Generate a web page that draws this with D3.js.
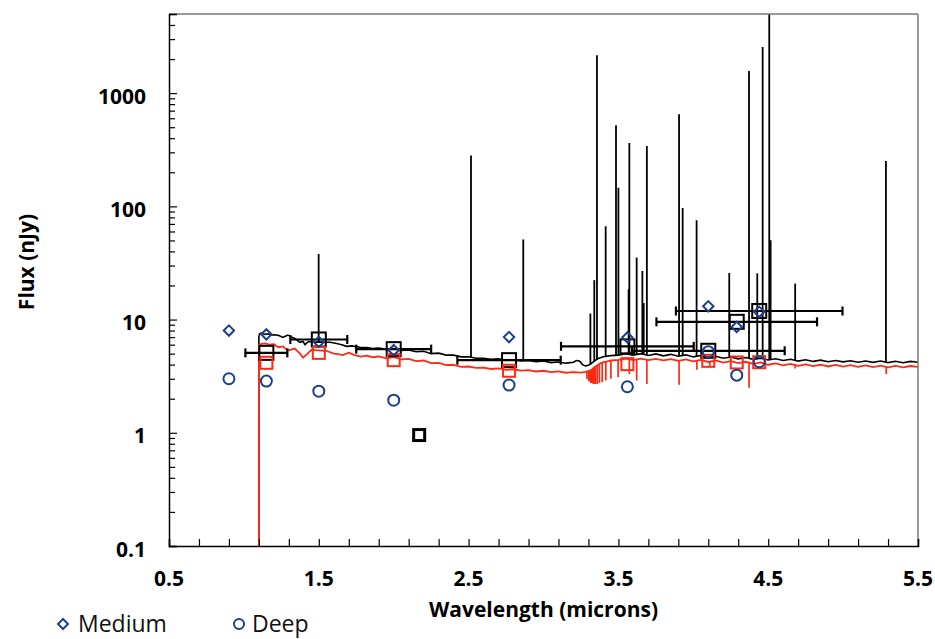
<!DOCTYPE html>
<html>
<head>
<meta charset="utf-8">
<script src="https://cdn.jsdelivr.net/npm/d3@7"></script>
<style>
  html, body { margin: 0; padding: 0; background: #fff; }
  svg { display: block; }
  .tick-label { font-family: "Open Sans", sans-serif; font-weight: 700; font-size: 21px; fill: #000; }
  .axis-title { font-family: "Open Sans", sans-serif; font-weight: 700; font-size: 21px; fill: #000; }
  .legend-text { font-family: "Open Sans", sans-serif; font-size: 23px; fill: #111; }
</style>
</head>
<body>
<svg id="chart" width="935" height="639"></svg>
<script>
// ---------------------------------------------------------------------------
// Data
// ---------------------------------------------------------------------------

// photometric points, Medium and Deep depths
const bandWl = [0.9, 1.15, 1.5, 2.0, 2.77, 3.56, 4.1, 4.29, 4.44];
const mediumFlux = [8.0, 7.4, 6.35, 5.37, 7.0, 6.95, 13.1, 8.6, 11.7];
const deepFlux = [3.0, 2.86, 2.33, 1.94, 2.64, 2.55, 5.2, 3.23, 4.24];

// model band fluxes (black: with lines, red: continuum only)
const squareWl = [1.15, 1.5, 2.0, 2.77, 3.56, 4.1, 4.29, 4.44];
const squareHalfWidth = [0.14, 0.19, 0.25, 0.345, 0.443, 0.51, 0.536, 0.556];
const blackSquareFlux = [5.08, 6.67, 5.48, 4.38, 5.8, 5.3, 9.55, 11.9];
const redSquareFlux = [4.15, 5.08, 4.38, 3.53, 4.04, 4.32, 4.18, 4.2];
const loneSquare = [[2.17, 0.955]];

// black model spectrum continuum [wavelength, flux]
const blackSpec = [
  [1.0999, 0.09], [1.1, 7.0], [1.105, 7.5], [1.118, 7.6], [1.14, 7.4], [1.16, 7.5], [1.18, 7.3],
  [1.2, 7.35], [1.23, 7.25], [1.26, 6.95], [1.28, 7.15], [1.294, 7.3], [1.32, 7.0], [1.34, 6.8],
  [1.374, 6.3], [1.395, 6.4], [1.408, 6.0], [1.425, 6.3], [1.441, 6.4], [1.47, 6.3], [1.5, 6.35],
  [1.54, 6.3], [1.575, 6.3], [1.62, 6.15], [1.653, 6.0], [1.686, 5.8], [1.72, 5.85], [1.775, 5.7],
  [1.82, 5.65], [1.86, 5.55], [1.9, 5.6], [1.95, 5.45], [2.0, 5.55], [2.05, 5.35], [2.1, 5.4],
  [2.15, 5.2], [2.2, 5.25], [2.25, 5.0], [2.3, 5.05], [2.35, 4.85], [2.4, 4.85], [2.45, 4.68],
  [2.5, 4.7], [2.55, 4.55], [2.6, 4.55], [2.65, 4.45], [2.7, 4.5], [2.75, 4.36], [2.8, 4.42],
  [2.85, 4.3], [2.9, 4.35], [2.95, 4.24], [3.0, 4.3], [3.05, 4.17], [3.1, 4.22], [3.15, 4.12],
  [3.2, 4.2], [3.22, 4.35], [3.24, 4.3], [3.26, 4.0], [3.28, 3.9], [3.3, 3.95], [3.32, 4.1],
  [3.34, 4.3], [3.36, 4.5], [3.4, 4.7], [3.45, 4.8], [3.5, 4.85], [3.55, 5.0], [3.6, 4.85],
  [3.65, 5.0], [3.7, 4.82], [3.75, 4.97], [3.8, 4.78], [3.85, 4.93], [3.9, 4.74], [3.95, 4.88],
  [4.0, 4.68], [4.05, 4.82], [4.1, 4.6], [4.15, 4.74], [4.2, 4.55], [4.25, 4.67], [4.3, 4.5],
  [4.35, 4.62], [4.4, 4.45], [4.45, 4.56], [4.5, 4.4], [4.55, 4.5], [4.6, 4.35], [4.65, 4.46],
  [4.7, 4.3], [4.75, 4.42], [4.8, 4.27], [4.85, 4.38], [4.9, 4.24], [4.95, 4.35], [5.0, 4.23],
  [5.05, 4.33], [5.1, 4.2], [5.15, 4.31], [5.2, 4.19], [5.25, 4.3], [5.3, 4.17], [5.35, 4.28],
  [5.4, 4.16], [5.45, 4.27], [5.5, 4.2]
];

// emission lines on the black spectrum [wavelength, base, peak]
const emissionLines = [
  [1.499, 6.3, 38], [2.516, 4.65, 282], [2.865, 4.3, 51], [3.313, 4.0, 11.3], [3.339, 4.3, 22.3],
  [3.357, 4.4, 2160], [3.415, 4.7, 66.7], [3.484, 4.8, 520], [3.5, 4.8, 146], [3.568, 4.9, 18.5],
  [3.573, 4.9, 363], [3.622, 4.9, 35.3], [3.66, 4.9, 26.9], [3.669, 4.9, 14], [3.69, 4.9, 341],
  [3.905, 4.8, 650], [3.929, 4.8, 96.8], [4.022, 4.75, 75.4], [4.24, 4.6, 25.8], [4.372, 4.5, 1567],
  [4.427, 4.5, 25.6], [4.463, 4.5, 2550], [4.507, 4.45, 9000], [4.516, 4.45, 50.2], [4.68, 4.4, 20.8],
  [5.286, 4.2, 251]
];

// red continuum spectrum [wavelength, flux]
const redSpec = [
  [1.0999, 0.09], [1.1, 6.0], [1.12, 6.1], [1.14, 6.15], [1.17, 6.0], [1.2, 6.05], [1.23, 5.7],
  [1.26, 5.8], [1.28, 5.5], [1.3, 5.35], [1.32, 5.45], [1.34, 5.55], [1.36, 5.2], [1.375, 5.0],
  [1.395, 4.6], [1.41, 4.8], [1.425, 5.0], [1.45, 5.4], [1.5, 5.35], [1.55, 5.3], [1.6, 5.0],
  [1.63, 4.95], [1.66, 4.85], [1.7, 5.1], [1.74, 4.85], [1.78, 4.7], [1.82, 4.8], [1.86, 4.65],
  [1.9, 4.72], [1.95, 4.55], [2.0, 4.65], [2.05, 4.45], [2.1, 4.5], [2.15, 4.3], [2.2, 4.35],
  [2.25, 4.12], [2.3, 4.15], [2.35, 3.97], [2.4, 3.98], [2.45, 3.82], [2.5, 3.85], [2.55, 3.74],
  [2.6, 3.76], [2.65, 3.66], [2.7, 3.7], [2.75, 3.6], [2.8, 3.64], [2.85, 3.54], [2.9, 3.58],
  [2.95, 3.48], [3.0, 3.53], [3.05, 3.44], [3.1, 3.48], [3.15, 3.39], [3.2, 3.43], [3.25, 3.4],
  [3.28, 3.45], [3.3, 3.5], [3.32, 3.6], [3.34, 3.8], [3.36, 3.95], [3.38, 4.1], [3.4, 4.2],
  [3.42, 4.25], [3.45, 4.35], [3.5, 4.4], [3.55, 4.52], [3.6, 4.38], [3.65, 4.52], [3.7, 4.38],
  [3.75, 4.5], [3.8, 4.36], [3.85, 4.48], [3.9, 4.32], [3.95, 4.44], [4.0, 4.27], [4.05, 4.4],
  [4.1, 4.22], [4.15, 4.35], [4.2, 4.17], [4.25, 4.3], [4.3, 4.12], [4.35, 4.24], [4.4, 4.07],
  [4.45, 4.18], [4.5, 3.99], [4.55, 4.1], [4.6, 3.94], [4.65, 4.06], [4.7, 3.9], [4.75, 4.02],
  [4.8, 3.88], [4.85, 3.99], [4.9, 3.85], [4.95, 3.97], [5.0, 3.84], [5.05, 3.95], [5.1, 3.82],
  [5.15, 3.93], [5.2, 3.81], [5.25, 3.92], [5.3, 3.79], [5.35, 3.9], [5.4, 3.78], [5.45, 3.89],
  [5.5, 3.82]
];

// absorption lines on the red spectrum [wavelength, base, bottom]
const absorptionLines = [
  [3.29, 3.45, 3.0], [3.3, 3.5, 2.9], [3.306, 3.52, 2.85], [3.313, 3.55, 2.8], [3.317, 3.58, 2.75],
  [3.321, 3.6, 2.75], [3.325, 3.65, 2.75], [3.332, 3.72, 2.7], [3.339, 3.8, 2.7], [3.348, 3.88, 2.7],
  [3.359, 3.95, 2.7], [3.373, 4.05, 2.75], [3.392, 4.15, 2.8], [3.416, 4.25, 2.9], [3.45, 4.35, 3.0],
  [3.498, 4.4, 3.1], [3.573, 4.45, 3.3], [3.622, 4.45, 2.9], [3.69, 4.45, 2.7], [3.905, 4.4, 2.65],
  [4.024, 4.35, 3.6], [4.11, 4.3, 3.9], [4.372, 4.17, 2.5], [4.68, 3.98, 3.7], [5.288, 3.85, 3.3]
];

const yMajorTicks = [0.1, 1, 10, 100, 1000];
const yTickLabels = ["0.1", "1", "10", "100", "1000"];
const xMajorTicks = [0.5, 1.5, 2.5, 3.5, 4.5, 5.5];
const xTickLabels = ["0.5", "1.5", "2.5", "3.5", "4.5", "5.5"];

// ---------------------------------------------------------------------------
// Layout
// ---------------------------------------------------------------------------

const LEFT = 169, RIGHT = 918, TOP = 14, BOTTOM = 546;
const BLUE = "#1c3f8f";
const RED = "#ff2a14";

const x = d3.scaleLinear().domain([0.5, 5.5]).range([LEFT, RIGHT]);
const y = d3.scaleLog().domain([0.1, 5000]).range([BOTTOM, TOP]);

const svg = d3.select("#chart");

svg.append("defs").append("clipPath").attr("id", "plot-clip")
  .append("rect")
  .attr("x", LEFT).attr("y", TOP)
  .attr("width", RIGHT - LEFT).attr("height", BOTTOM - TOP);

const plot = svg.append("g").attr("clip-path", "url(#plot-clip)");

const line = d3.line().x((d) => x(d[0])).y((d) => y(d[1]));

// black spectrum + emission lines
plot.append("path")
  .attr("d", line(blackSpec))
  .attr("fill", "none").attr("stroke", "#000").attr("stroke-width", 1.6);

plot.append("g").selectAll("line").data(emissionLines).join("line")
  .attr("x1", (d) => x(d[0])).attr("x2", (d) => x(d[0]))
  .attr("y1", (d) => y(d[1])).attr("y2", (d) => y(d[2]))
  .attr("stroke", "#000").attr("stroke-width", 1.8);

// red spectrum + absorption lines
plot.append("path")
  .attr("d", line(redSpec))
  .attr("fill", "none").attr("stroke", RED).attr("stroke-width", 1.8);

plot.append("g").selectAll("line").data(absorptionLines).join("line")
  .attr("x1", (d) => x(d[0])).attr("x2", (d) => x(d[0]))
  .attr("y1", (d) => y(d[1])).attr("y2", (d) => y(d[2]))
  .attr("stroke", RED).attr("stroke-width", 1.7);

// horizontal error bars of the black squares
const bars = plot.append("g").attr("stroke", "#000").attr("stroke-width", 2.2);
squareWl.forEach((wl, i) => {
  const yy = y(blackSquareFlux[i]);
  const x0 = x(wl - squareHalfWidth[i]);
  const x1 = x(wl + squareHalfWidth[i]);
  bars.append("line").attr("x1", x0).attr("x2", x1).attr("y1", yy).attr("y2", yy);
  bars.append("line").attr("x1", x0).attr("x2", x0).attr("y1", yy - 4.5).attr("y2", yy + 4.5);
  bars.append("line").attr("x1", x1).attr("x2", x1).attr("y1", yy - 4.5).attr("y2", yy + 4.5);
});

// black squares
plot.append("g").selectAll("rect").data(squareWl).join("rect")
  .attr("x", (d) => x(d) - 7).attr("y", (d, i) => y(blackSquareFlux[i]) - 7)
  .attr("width", 14).attr("height", 14)
  .attr("fill", "none").attr("stroke", "#000").attr("stroke-width", 2);

plot.append("g").selectAll("rect").data(loneSquare).join("rect")
  .attr("x", (d) => x(d[0]) - 5.5).attr("y", (d) => y(d[1]) - 5.5)
  .attr("width", 11).attr("height", 11)
  .attr("fill", "none").attr("stroke", "#000").attr("stroke-width", 3);

// red squares
plot.append("g").selectAll("rect").data(squareWl).join("rect")
  .attr("x", (d) => x(d) - 6).attr("y", (d, i) => y(redSquareFlux[i]) - 6)
  .attr("width", 12).attr("height", 12)
  .attr("fill", "none").attr("stroke", RED).attr("stroke-width", 2);

// Medium (diamonds) and Deep (circles)
const diamond = (cx, cy, r) => `M${cx},${cy - r}L${cx + r},${cy}L${cx},${cy + r}L${cx - r},${cy}Z`;

plot.append("g").selectAll("path").data(bandWl).join("path")
  .attr("d", (d, i) => diamond(x(d), y(mediumFlux[i]), 5.2))
  .attr("fill", "none").attr("stroke", BLUE).attr("stroke-width", 2);

plot.append("g").selectAll("circle").data(bandWl).join("circle")
  .attr("cx", (d) => x(d)).attr("cy", (d, i) => y(deepFlux[i])).attr("r", 5.5)
  .attr("fill", "none").attr("stroke", BLUE).attr("stroke-width", 2);

// ---------------------------------------------------------------------------
// Frame and axes
// ---------------------------------------------------------------------------

svg.append("line").attr("x1", LEFT).attr("x2", RIGHT).attr("y1", TOP).attr("y2", TOP)
  .attr("stroke", "#7a7a7a").attr("stroke-width", 1.5);
svg.append("line").attr("x1", RIGHT).attr("x2", RIGHT).attr("y1", TOP).attr("y2", BOTTOM)
  .attr("stroke", "#7a7a7a").attr("stroke-width", 1.5);

// y axis with log minor ticks
const yTicks = [];
[0.1, 1, 10, 100, 1000].forEach((dec) => {
  for (let k = 1; k <= 9; k++) {
    const v = dec * k;
    if (v <= 5000) yTicks.push(v);
  }
});

const yAxis = svg.append("g").attr("transform", `translate(${LEFT},0)`)
  .call(d3.axisLeft(y).tickValues(yTicks).tickSize(-8).tickFormat(() => ""));
yAxis.select(".domain").attr("stroke", "#000").attr("stroke-width", 1.5);
yAxis.selectAll(".tick line")
  .attr("stroke", "#000").attr("stroke-width", 1.2)
  .attr("x2", (d) => (yMajorTicks.includes(d) ? 8 : 6));

svg.append("g").selectAll("text").data(yMajorTicks).join("text")
  .attr("class", "tick-label")
  .attr("x", 146).attr("y", (d) => y(d)).attr("dy", "0.5em")
  .attr("text-anchor", "end")
  .text((d, i) => yTickLabels[i]);

// x axis, minor ticks every 0.2
const xTicks = d3.range(0, 26).map((k) => 0.5 + k * 0.2);
const xAxis = svg.append("g").attr("transform", `translate(0,${BOTTOM})`)
  .call(d3.axisBottom(x).tickValues(xTicks).tickSize(-7).tickFormat(() => ""));
xAxis.select(".domain").attr("stroke", "#000").attr("stroke-width", 1.5);
xAxis.selectAll(".tick line").attr("stroke", "#000").attr("stroke-width", 1.2);

svg.append("g").selectAll("text").data(xMajorTicks).join("text")
  .attr("class", "tick-label")
  .attr("x", (d) => x(d)).attr("y", 586)
  .attr("text-anchor", "middle")
  .text((d, i) => xTickLabels[i]);

// titles
svg.append("text").attr("class", "axis-title")
  .attr("x", (LEFT + RIGHT) / 2).attr("y", 617).attr("text-anchor", "middle")
  .text("Wavelength (microns)");

svg.append("text").attr("class", "axis-title")
  .attr("transform", "translate(34,262) rotate(-90)").attr("text-anchor", "middle")
  .text("Flux (nJy)");

// legend
const legend = svg.append("g");
legend.append("path").attr("d", diamond(63, 624, 5))
  .attr("fill", "none").attr("stroke", BLUE).attr("stroke-width", 2);
legend.append("text").attr("class", "legend-text").attr("x", 78).attr("y", 632).text("Medium");
legend.append("circle").attr("cx", 239).attr("cy", 624).attr("r", 5)
  .attr("fill", "none").attr("stroke", BLUE).attr("stroke-width", 2);
legend.append("text").attr("class", "legend-text").attr("x", 252).attr("y", 632).text("Deep");
</script>
</body>
</html>
